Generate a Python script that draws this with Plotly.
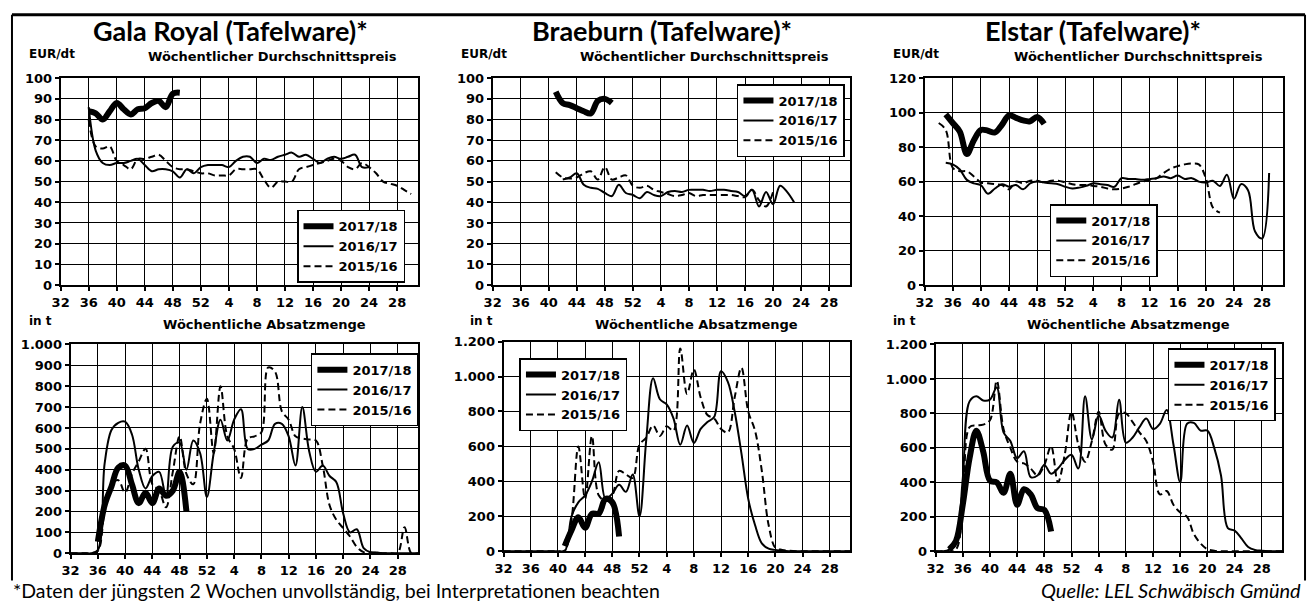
import plotly.graph_objects as go

W, H = 1308, 610

# ---------------- data ----------------
WEEK_TICKVALS = [32, 36, 40, 44, 48, 52, 56, 60, 64, 68, 72, 76, 80]
WEEK_TICKTEXT = ["32", "36", "40", "44", "48", "52", "4", "8", "12", "16", "20", "24", "28"]
SERIES_NAMES = ["2017/18", "2016/17", "2015/16"]

# Gala Royal - price (EUR/dt)
gala_price_1718_start = 36
gala_price_1718 = [84, 83, 80, 84, 88, 85, 82.5, 85, 85.5, 88, 89, 86, 92.5, 93]
gala_price_1617_start = 36
gala_price_1617 = [86, 65, 59, 58, 59, 59, 60, 61, 58, 55, 56, 56, 55, 52, 56, 54, 57, 58, 58, 58,
                   57, 60, 62, 62, 59, 61, 60.5, 62, 63, 64, 62, 63, 61, 59, 61, 62, 61, 62, 63, 57, 57]
gala_price_1516_start = 36
gala_price_1516 = [80, 67, 66, 67, 60, 58, 56, 61, 61, 62, 63, 60, 57, 56, 56, 55, 54, 54, 53, 53,
                   53, 56, 56, 56, 56, 51, 47, 50, 50, 50, 56, 57, 58, 59, 60, 61, 60, 57, 56, 59,
                   57, 54, 50, 49, 48, 46, 44]

# Braeburn - price
braeburn_price_1718_start = 41
braeburn_price_1718 = [93.5, 88, 87, 85.5, 84, 83, 89, 90, 88]
braeburn_price_1617_start = 42
braeburn_price_1617 = [51, 52, 54, 48.5, 47, 46.5, 44.5, 43, 48.5, 44.5, 43.5, 42, 45, 43.5, 43, 45,
                       45.5, 45, 46, 46, 46, 45.5, 46, 46, 45.5, 45, 43, 46, 38, 45, 39, 48, 45, 40]
braeburn_price_1516_start = 41
braeburn_price_1516 = [54.5, 52, 51.5, 52, 54, 55, 51, 57, 51, 52, 53, 48, 47, 48, 46, 45, 44, 43,
                       43.5, 44.5, 43, 43.5, 43.5, 43.5, 43.5, 43.5, 43, 42.5, 46, 41, 38, 45]

# Elstar - price
elstar_price_1718_start = 35
elstar_price_1718 = [99, 94, 89, 76, 84, 90, 89.5, 88.5, 93, 98.5, 97, 95.5, 95, 97.5, 93.5]
elstar_price_1617_start = 35
elstar_price_1617 = [71, 70, 67, 61, 59, 58, 53, 56, 58.5, 57, 58, 55.5, 59, 60, 59.5, 59, 58.5, 57,
                     56, 56.5, 57.5, 59, 58.5, 58, 57, 62, 61.5, 61.5, 61, 61.5, 62, 63, 62, 63.5,
                     61.5, 62, 60, 59.5, 60.5, 57.5, 64, 50, 58.5, 55, 31, 27, 65]
elstar_price_1516_start = 34
elstar_price_1516 = [94, 90, 68, 66, 66, 63, 59.5, 59, 58.5, 58, 55.5, 60, 59, 60.5, 60.5, 59.5, 60.5,
                     60.5, 59.5, 58.5, 58, 58, 57.5, 57, 56, 55.5, 56, 57, 58.5, 60, 61, 62, 65, 67.5,
                     69, 70, 70.5, 70, 62, 45, 42]

# Gala Royal - volume (t)
gala_vol_1718_start = 36
gala_vol_1718 = [55, 230, 320, 410, 420, 330, 240, 290, 240, 310, 275, 300, 390, 200]
gala_vol_1617_start = 32
gala_vol_1617 = [0, 0, 0, 0, 15, 430, 590, 625, 630, 570, 400, 310, 370, 390, 270, 510, 530, 400,
                 540, 480, 270, 480, 640, 540, 640, 690, 500, 500, 520, 540, 620, 620, 560, 420,
                 700, 490, 390, 420, 370, 340, 190, 100, 115, 25, 5, 3, 0, 0, 0, 0, 0, 0]
gala_vol_1516_start = 32
gala_vol_1516 = [0, 0, 0, 0, 10, 210, 330, 350, 290, 380, 440, 500, 330, 300, 220, 390, 560, 380,
                 330, 620, 740, 480, 800, 560, 500, 360, 550, 560, 580, 890, 870, 680, 640, 560,
                 550, 545, 540, 420, 230, 160, 120, 80, 30, 5, 3, 2, 0, 0, 0, 125, 0, 0]

# Braeburn - volume
braeburn_vol_1718_start = 41
braeburn_vol_1718 = [30, 120, 195, 135, 215, 215, 300, 280, 85]
braeburn_vol_1617_start = 32
braeburn_vol_1617 = [0, 0, 0, 0, 0, 0, 0, 0, 0, 0, 200, 280, 320, 400, 510, 300, 330, 380, 340, 440,
                     200, 640, 990, 870, 840, 760, 610, 720, 620, 700, 740, 770, 1030, 970, 800,
                     560, 300, 150, 45, 15, 8, 3, 0, 0, 0, 0, 0, 0, 0, 0, 0, 0]
braeburn_vol_1516_start = 32
braeburn_vol_1516 = [0, 0, 0, 0, 0, 0, 0, 0, 0, 5, 180, 600, 300, 660, 320, 290, 320, 460, 440, 420,
                     610, 650, 720, 660, 715, 690, 1160, 900, 1040, 880, 780, 760, 700, 680, 880,
                     1050, 800, 690, 460, 150, 20, 8, 3, 0, 0, 0, 0, 0, 0, 0, 0, 0]

# Elstar - volume
elstar_vol_1718_start = 34
elstar_vol_1718 = [10, 60, 270, 540, 700, 580, 410, 400, 340, 450, 270, 360, 330, 250, 240, 115]
elstar_vol_1617_start = 32
elstar_vol_1617 = [0, 0, 10, 60, 420, 870, 900, 875, 880, 950, 690, 640, 540, 580, 430, 440, 500,
                   450, 480, 530, 560, 480, 900, 650, 790, 700, 660, 880, 630, 660, 720, 770, 710,
                   740, 820, 620, 400, 740, 745, 700, 700, 600, 440, 135, 120, 75, 25, 8, 3, 0, 0, 0]
elstar_vol_1516_start = 32
elstar_vol_1516 = [0, 0, 0, 10, 250, 720, 730, 735, 760, 990, 710, 600, 520, 510, 480, 440, 500, 610,
                   400, 560, 810, 620, 520, 640, 810, 620, 590, 800, 800, 750, 690, 640, 520, 330,
                   350, 270, 225, 200, 100, 45, 12, 3, 0, 0, 0, 0, 0, 0, 0, 0, 0, 0]

PRICE_TICKS_100 = [0, 10, 20, 30, 40, 50, 60, 70, 80, 90, 100]
PRICE_TICKS_120 = [0, 20, 40, 60, 80, 100, 120]
VOL_TICKS_1000 = [0, 100, 200, 300, 400, 500, 600, 700, 800, 900, 1000]
VOL_TICKTEXT_1000 = ["0", "100", "200", "300", "400", "500", "600", "700", "800", "900", "1.000"]
VOL_TICKS_1200 = [0, 200, 400, 600, 800, 1000, 1200]
VOL_TICKTEXT_1200 = ["0", "200", "400", "600", "800", "1.000", "1.200"]

TITLES = ["Gala Royal (Tafelware)*", "Braeburn (Tafelware)*", "Elstar (Tafelware)*"]

# ---------------- layout helpers ----------------
def px(x):
    return x / W

def py(y):
    return 1 - y / H

TICKFONT = dict(family="DejaVu Sans", size=13, color="black", weight="bold")

panels = [
    dict(series=[(gala_price_1718_start, gala_price_1718), (gala_price_1617_start, gala_price_1617),
                 (gala_price_1516_start, gala_price_1516)],
         xd=(52, 412), yd=(73, 285), yr=100, tv=PRICE_TICKS_100, tt=None, leg=(290, 208)),
    dict(series=[(braeburn_price_1718_start, braeburn_price_1718),
                 (braeburn_price_1617_start, braeburn_price_1617),
                 (braeburn_price_1516_start, braeburn_price_1516)],
         xd=(487, 847), yd=(73, 285), yr=100, tv=PRICE_TICKS_100, tt=None, leg=(733, 79)),
    dict(series=[(elstar_price_1718_start, elstar_price_1718), (elstar_price_1617_start, elstar_price_1617),
                 (elstar_price_1516_start, elstar_price_1516)],
         xd=(922, 1283), yd=(73, 285), yr=120, tv=PRICE_TICKS_120, tt=None, leg=(1048, 202)),
    dict(series=[(gala_vol_1718_start, gala_vol_1718), (gala_vol_1617_start, gala_vol_1617),
                 (gala_vol_1516_start, gala_vol_1516)],
         xd=(62, 412), yd=(346, 560), yr=1000, tv=VOL_TICKS_1000, tt=VOL_TICKTEXT_1000, leg=(304, 355)),
    dict(series=[(braeburn_vol_1718_start, braeburn_vol_1718), (braeburn_vol_1617_start, braeburn_vol_1617),
                 (braeburn_vol_1516_start, braeburn_vol_1516)],
         xd=(498, 847), yd=(343, 558), yr=1200, tv=VOL_TICKS_1200, tt=VOL_TICKTEXT_1200, leg=(514, 360)),
    dict(series=[(elstar_vol_1718_start, elstar_vol_1718), (elstar_vol_1617_start, elstar_vol_1617),
                 (elstar_vol_1516_start, elstar_vol_1516)],
         xd=(933, 1282), yd=(346, 558), yr=1200, tv=VOL_TICKS_1200, tt=VOL_TICKTEXT_1200, leg=(1167, 350)),
]

STYLES = [
    dict(width=6, dash="solid"),
    dict(width=2, dash="solid"),
    dict(width=2, dash="7px,4px"),
]

fig = go.Figure()
layout = dict(
    width=W, height=H, margin=dict(l=0, r=0, t=0, b=0),
    paper_bgcolor="white", plot_bgcolor="white", showlegend=True,
)

for i, p in enumerate(panels):
    n = i + 1
    xa = "x" if n == 1 else f"x{n}"
    ya = "y" if n == 1 else f"y{n}"
    lg = "legend" if n == 1 else f"legend{n}"
    for k in [2, 1, 0]:
        start, vals = p["series"][k]
        weeks = [start + j for j in range(len(vals))]
        fig.add_trace(go.Scatter(
            x=weeks, y=vals, mode="lines", name=SERIES_NAMES[k],
            line=dict(color="black", width=STYLES[k]["width"], dash=STYLES[k]["dash"],
                      shape="spline", smoothing=1.0),
            xaxis=xa, yaxis=ya, legend=lg, hoverinfo="skip",
        ))
    xkey = "xaxis" if n == 1 else f"xaxis{n}"
    ykey = "yaxis" if n == 1 else f"yaxis{n}"
    layout[xkey] = dict(
        domain=[px(p["xd"][0]), px(p["xd"][1])], anchor=ya, range=[32, 83],
        tickmode="array", tickvals=WEEK_TICKVALS, ticktext=WEEK_TICKTEXT,
        showgrid=True, gridcolor="black", gridwidth=1, zeroline=False,
        showline=True, mirror=True, linecolor="black", linewidth=2,
        ticks="outside", ticklen=4, tickcolor="black", tickwidth=1.5,
        tickfont=TICKFONT, fixedrange=True,
    )
    yax = dict(
        domain=[py(p["yd"][1]), py(p["yd"][0])], anchor=xa, range=[0, p["yr"]],
        tickmode="array", tickvals=p["tv"],
        showgrid=True, gridcolor="black", gridwidth=1, zeroline=False,
        showline=True, mirror=True, linecolor="black", linewidth=2,
        ticks="outside", ticklen=4, tickcolor="black", tickwidth=1.5,
        tickfont=TICKFONT, fixedrange=True,
    )
    if p["tt"] is not None:
        yax["ticktext"] = p["tt"]
    layout[ykey] = yax
    layout[lg] = dict(
        x=px(p["leg"][0]), y=py(p["leg"][1]), xanchor="left", yanchor="top",
        xref="paper", yref="paper", traceorder="reversed",
        bgcolor="white", bordercolor="black", borderwidth=1.5,
        font=dict(family="DejaVu Sans", size=13, color="black", weight="bold"),
        tracegroupgap=0, itemwidth=30,
    )

annotations = []
title_x = [223, 658, 1092]
for t, cx in zip(TITLES, title_x):
    annotations.append(dict(text=t, x=px(cx), y=py(24), xref="paper", yref="paper",
                            showarrow=False, xanchor="center", yanchor="middle",
                            font=dict(family="Lato", size=27, color="black", weight="bold")))
SUBFONT = dict(family="DejaVu Sans", size=13, color="black", weight="bold")
for lx in [18, 453, 888]:
    annotations.append(dict(text="EUR/dt", x=px(lx), y=py(48), xref="paper", yref="paper",
                            showarrow=False, xanchor="left", yanchor="middle",
                            font=dict(family="DejaVu Sans", size=12, color="black", weight="bold")))
for cx in [265, 700, 1137]:
    annotations.append(dict(text="Wöchentlicher Durchschnittspreis", x=px(cx), y=py(51), xref="paper",
                            yref="paper", showarrow=False, xanchor="center", yanchor="middle",
                            font=SUBFONT))
for lx in [18, 462, 888]:
    annotations.append(dict(text="in t", x=px(lx), y=py(322), xref="paper", yref="paper",
                            showarrow=False, xanchor="left", yanchor="middle",
                            font=dict(family="DejaVu Sans", size=12, color="black", weight="bold")))
for cx in [257, 692, 1127]:
    annotations.append(dict(text="Wöchentliche Absatzmenge", x=px(cx), y=py(325), xref="paper",
                            yref="paper", showarrow=False, xanchor="center", yanchor="middle",
                            font=SUBFONT))
annotations.append(dict(text="*Daten der jüngsten 2 Wochen unvollständig, bei Interpretationen beachten",
                        x=px(2), y=py(598), xref="paper", yref="paper", showarrow=False,
                        xanchor="left", yanchor="middle",
                        font=dict(family="Lato", size=19.5, color="black")))
annotations.append(dict(text="<i>Quelle: LEL Schwäbisch Gmünd</i>",
                        x=px(1303), y=py(598), xref="paper", yref="paper", showarrow=False,
                        xanchor="right", yanchor="middle",
                        font=dict(family="Lato", size=20, color="black")))
layout["annotations"] = annotations

layout["shapes"] = [
    dict(type="line", xref="paper", yref="paper", x0=px(3), x1=px(1305), y0=py(8), y1=py(8),
         line=dict(color="black", width=3)),
    dict(type="line", xref="paper", yref="paper", x0=px(3), x1=px(3), y0=py(8), y1=py(588),
         line=dict(color="black", width=2)),
    dict(type="line", xref="paper", yref="paper", x0=px(1305), x1=px(1305), y0=py(8), y1=py(588),
         line=dict(color="black", width=2)),
]

fig.update_layout(**layout)
fig.write_html("out.html", config={"displayModeBar": False},
               post_script="document.body.style.margin='0';")
